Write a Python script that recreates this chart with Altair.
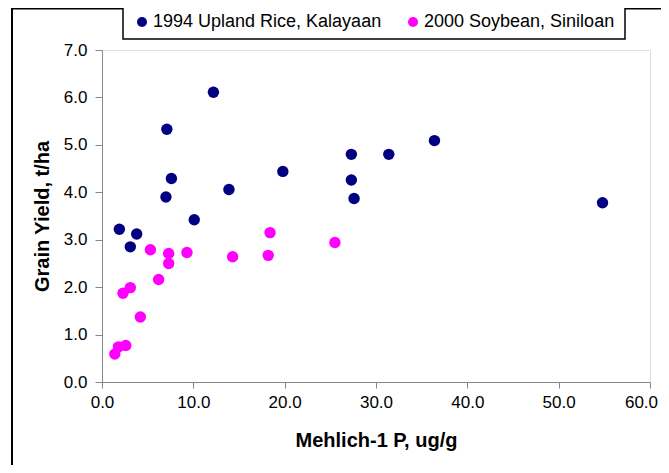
import altair as alt
import pandas as pd

series_names = ["1994 Upland Rice, Kalayaan", "2000 Soybean, Siniloan"]
series_colors = ["#000080", "#FF00FF"]

rice_p = [12.2, 7.1, 27.3, 31.4, 19.8, 7.6, 27.3, 13.9, 7.0, 27.6, 10.1, 1.9, 3.8, 3.1, 36.4, 54.8]
rice_y = [6.11, 5.33, 4.80, 4.80, 4.44, 4.29, 4.26, 4.06, 3.90, 3.87, 3.42, 3.22, 3.12, 2.85, 5.09, 3.78]

soy_p = [18.4, 25.5, 5.3, 7.3, 9.3, 7.3, 14.3, 18.2, 6.2, 3.1, 2.3, 4.2, 2.6, 1.8, 1.4]
soy_y = [3.15, 2.94, 2.79, 2.71, 2.73, 2.50, 2.64, 2.67, 2.16, 1.99, 1.87, 1.37, 0.77, 0.74, 0.59]

x_ticks = [0, 10, 20, 30, 40, 50, 60]
y_ticks = [0, 1, 2, 3, 4, 5, 6, 7]

x_title = "Mehlich-1 P, ug/g"
y_title = "Grain Yield, t/ha"

FONT = "Liberation Sans"

df = pd.DataFrame({
    "p": rice_p + soy_p,
    "yield": rice_y + soy_y,
    "series": [series_names[0]] * len(rice_p) + [series_names[1]] * len(soy_p),
})

one = pd.DataFrame({"a": [0]})

W, H = 548, 332

frame_left = alt.Chart(one).mark_rule(color="black", strokeWidth=2).encode(
    x=alt.value(-90), y=alt.value(-44), y2=alt.value(H + 200)
)
frame_top = alt.Chart(one).mark_rule(color="black", strokeWidth=1.5).encode(
    x=alt.value(-90), x2=alt.value(W + 200), y=alt.value(-41.25)
)
legend_box = alt.Chart(one).mark_rect(fill="white", stroke="black", strokeWidth=1.5).encode(
    x=alt.value(21), x2=alt.value(523), y=alt.value(-44), y2=alt.value(-11)
)

points = alt.Chart(df).mark_circle(size=130, opacity=1).encode(
    x=alt.X(
        "p:Q",
        scale=alt.Scale(domain=[0, 60], nice=False, zero=False),
        axis=alt.Axis(
            values=x_ticks, format=".1f", title=x_title, grid=False,
            labelFlush=False, labelOverlap=False,
            labelOffset={"condition": {"test": "datum.value >= 60", "value": -9}, "value": 0},
            labelFontSize=17, labelPadding=6, tickSize=6,
            titleFontSize=20, titleFontWeight="bold", titlePadding=20,
        ),
    ),
    y=alt.Y(
        "yield:Q",
        scale=alt.Scale(domain=[0, 7], nice=False, zero=False),
        axis=alt.Axis(
            values=y_ticks, format=".1f", title=y_title, grid=False,
            labelFlush=False, labelOverlap=False,
            labelFontSize=17, labelPadding=8, tickSize=7,
            titleFontSize=20, titleFontWeight="bold", titlePadding=11,
        ),
    ),
    color=alt.Color(
        "series:N",
        scale=alt.Scale(domain=series_names, range=series_colors),
        legend=alt.Legend(
            title=None, orient="none", legendX=31, legendY=-37,
            direction="horizontal", symbolType="circle", symbolSize=100,
            symbolOpacity=1, labelFontSize=18, labelFont=FONT,
            labelOffset=2, columnPadding=22, labelLimit=500, padding=0,
        ),
    ),
)

chart = alt.layer(frame_left, frame_top, legend_box, points).properties(
    width=W, height=H,
    autosize=alt.AutoSizeParams(type="none"),
    padding={"left": 94, "top": 42, "right": 11, "bottom": 83},
).configure_view(
    stroke="#808080", strokeWidth=2
).configure_axis(
    grid=False, domainColor="black", domainWidth=1.5, tickColor="black",
    tickWidth=1.5, labelColor="black", titleColor="black",
    labelFont=FONT, titleFont=FONT,
).configure(background="white")

chart.save("out.html", embed_options={"renderer": "svg", "actions": False})
